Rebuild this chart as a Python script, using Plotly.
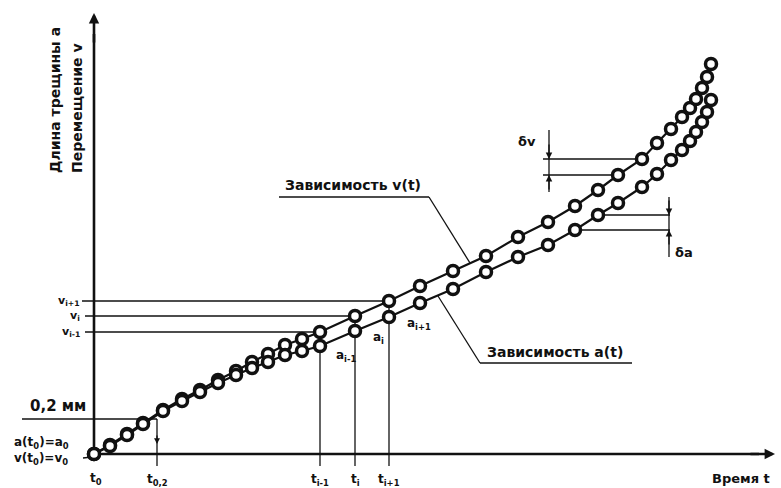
import plotly.graph_objects as go

# Time samples shared by both records
t = [0, 1.6, 3.3, 4.9, 6.9, 8.8, 10.6, 12.4, 14.2, 15.8, 17.4, 19.1, 20.8, 22.6,
     26.1, 29.5, 32.6, 35.9, 39.2, 42.4, 45.4, 48.1, 50.4, 52.4, 54.8, 56.3,
     57.7, 58.8, 59.6, 60.2, 60.8, 61.3, 61.7]

# Displacement v(t)
v = [0, 0.9, 2.0, 3.1, 4.4, 5.5, 6.4, 7.4, 8.3, 9.2, 10.0, 10.9, 11.5, 12.2,
     13.8, 15.3, 16.8, 18.3, 19.8, 21.7, 23.2, 24.8, 26.4, 27.9, 29.5, 31.1,
     32.5, 33.7, 34.6, 35.5, 36.6, 37.7, 39.0]

# Crack length a(t)
a = [0, 0.8, 1.9, 3.0, 4.3, 5.3, 6.2, 7.1, 7.9, 8.6, 9.2, 9.9, 10.3, 10.8,
     12.3, 13.7, 15.1, 16.5, 18.2, 19.7, 20.9, 22.4, 23.9, 25.1, 26.7, 28.0,
     29.4, 30.4, 31.3, 32.2, 33.2, 34.2, 35.4]

# Indices of the highlighted steps i-1, i, i+1
steps = [13, 14, 15]
step_names = ["i-1", "i", "i+1"]

# 0.2 mm crack growth level and its time
level_02 = 3.5
t_02 = 6.3

# Increments shown on the upper part of the curves
dv_pair = [23, 24]
da_pair = [21, 22]

FONT = "DejaVu Sans, Liberation Sans, sans-serif"
BLACK = "#111111"

fig = go.Figure()

for series in (v, a):
    fig.add_trace(go.Scatter(
        x=t, y=series, mode="lines+markers",
        line=dict(color=BLACK, width=2.2),
        marker=dict(symbol="circle", size=11, color="white",
                    line=dict(color=BLACK, width=3.5)),
        hoverinfo="skip", showlegend=False))

shapes = []


def seg(x0, y0, x1, y1, w=1.3):
    shapes.append(dict(type="line", x0=x0, y0=y0, x1=x1, y1=y1,
                       xref="x", yref="y", layer="below",
                       line=dict(color=BLACK, width=w)))


annotations = []


def label(x, y, text, size=12, xanchor="center", yanchor="middle", angle=0):
    annotations.append(dict(x=x, y=y, text="<b>%s</b>" % text, showarrow=False,
                            xanchor=xanchor, yanchor=yanchor, textangle=angle,
                            font=dict(family=FONT, size=size, color=BLACK)))


def head(x, y, ax, ay, size=1.0, width=1.3):
    annotations.append(dict(x=x, y=y, ax=ax, ay=ay, axref="x", ayref="y",
                            xref="x", yref="y", text="", showarrow=True,
                            arrowhead=2, arrowsize=size, arrowwidth=width,
                            arrowcolor=BLACK, standoff=0, startstandoff=0))


# Coordinate axes with arrow heads
seg(0, 0, 0, 42.0, w=2.6)
seg(0, 0, 66.5, 0, w=2.6)
head(0, 44.1, 0, 41.0, size=0.8, width=2.6)
head(68.1, 0, 65.5, 0, size=0.8, width=2.6)

# Step lines at i-1, i, i+1
for k, name in zip(steps, step_names):
    seg(-1.2 if name == "i+1" else -0.9, v[k], t[k], v[k])
    seg(t[k], v[k], t[k], -1.2)
    label(-1.2, v[k], "v<sub>%s</sub>" % name, size=11, xanchor="right")
    label(t[k], -2.6, "t<sub>%s</sub>" % name, size=12)

label(24.0, 9.8, "a<sub>i-1</sub>", size=12, xanchor="left")
label(27.7, 11.6, "a<sub>i</sub>", size=12, xanchor="left")
label(31.1, 13.0, "a<sub>i+1</sub>", size=12, xanchor="left")

# 0.2 mm level
seg(-7.2, level_02, t_02, level_02)
seg(t_02, level_02, t_02, -1.2)
head(t_02, 1.0, t_02, 2.0, size=0.9, width=1.3)
label(-3.6, level_02 + 1.35, "0,2 мм", size=15)
label(t_02, -2.6, "t<sub>0,2</sub>", size=12)

# Initial values
seg(-1.1, -0.4, -0.2, -0.3)
label(-5.3, 1.1, "a(t<sub>0</sub>)=a<sub>0</sub>", size=12)
label(-5.3, -0.5, "v(t<sub>0</sub>)=v<sub>0</sub>", size=12)
label(0.2, -2.5, "t<sub>0</sub>", size=12)

# Increment dv
k0, k1 = dv_pair
x_dv = 45.5
seg(44.9, v[k1], t[k1], v[k1])
seg(44.9, v[k0], t[k0], v[k0])
seg(x_dv, 32.4, x_dv, 26.2)
head(x_dv, v[k1], x_dv, v[k1] + 1.6)
head(x_dv, v[k0], x_dv, v[k0] - 1.6)
label(43.3, 31.3, "δv", size=13)

# Increment da
k0, k1 = da_pair
x_da = 57.5
seg(t[k1], a[k1], x_da + 0.1, a[k1])
seg(t[k0], a[k0], x_da + 0.1, a[k0])
seg(x_da, 25.7, x_da, 19.7)
head(x_da, a[k1], x_da, a[k1] + 1.6)
head(x_da, a[k0], x_da, a[k0] - 1.6)
label(59.0, 20.2, "δa", size=13)

# Curve captions with leaders
label(25.9, 26.9, "Зависимость v(t)", size=14)
seg(18.5, 25.7, 33.5, 25.7)
seg(33.5, 25.7, 37.6, 19.1)

label(46.1, 10.2, "Зависимость a(t)", size=14)
seg(38.6, 9.1, 53.8, 9.1)
seg(38.6, 9.1, 34.4, 15.8)

# Axis titles
label(-3.9, 27.9, "Длина трещины a", size=14, yanchor="bottom", angle=-90)
label(-1.7, 27.9, "Перемещение v", size=14, yanchor="bottom", angle=-90)
label(64.7, -2.4, "Время t", size=13)

fig.update_layout(
    width=781, height=488,
    margin=dict(l=0, r=0, t=0, b=0),
    paper_bgcolor="white", plot_bgcolor="white",
    xaxis=dict(range=[-9.4, 68.7], visible=False, fixedrange=True),
    yaxis=dict(range=[-3.4, 45.4], visible=False, fixedrange=True),
    shapes=shapes, annotations=annotations,
    showlegend=False,
)

fig.write_html("out.html")
